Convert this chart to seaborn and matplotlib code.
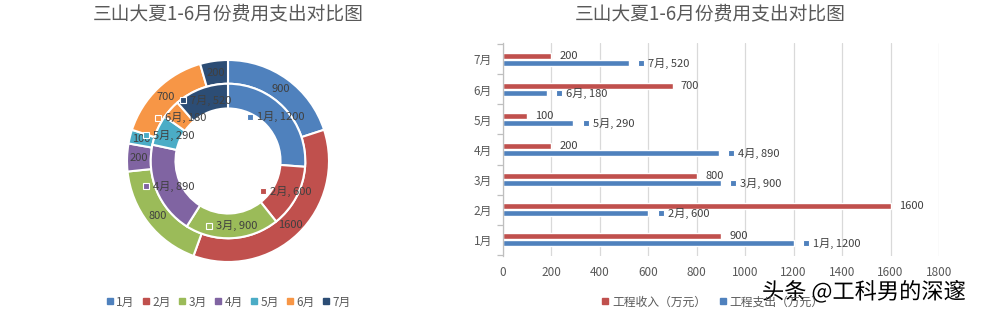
import matplotlib
matplotlib.use("Agg")
import matplotlib.pyplot as plt
import matplotlib.patheffects as pe
from matplotlib.lines import Line2D
import seaborn as sns
import pandas as pd
import numpy as np

sns.set_theme(style="white")
plt.rcParams['font.family'] = ['Noto Sans CJK SC', 'DejaVu Sans']

# ---------------- data ----------------
months = ["1月", "2月", "3月", "4月", "5月", "6月", "7月"]
income = [900, 1600, 800, 200, 100, 700, 200]        # 工程收入（万元）
expense = [1200, 600, 900, 890, 290, 180, 520]       # 工程支出（万元）
series_names = ["工程收入（万元）", "工程支出（万元）"]
title = "三山大夏1-6月份费用支出对比图"
xticks = [0, 200, 400, 600, 800, 1000, 1200, 1400, 1600, 1800]

month_colors = ["#4F81BD", "#C0504D", "#9BBB59", "#8064A2", "#4BACC6", "#F79646", "#2C4D75"]
red, blue = "#C0504D", "#4F81BD"
txt_gray = "#595959"
lab_dark = "#404040"

W, H = 989, 313
fig = plt.figure(figsize=(W / 100, H / 100), dpi=100)
fig.patch.set_facecolor("white")


def fx(px):
    return px / W


def fy(py):
    return 1 - py / H


# ---------------- left: donut ----------------
cx, cy, R = 228, 161, 101
half = 110
ax1 = fig.add_axes([fx(cx - half), fy(cy + half), 2 * half / W, 2 * half / H])
lim = half / R

r_out, r_mid, r_in = 1.0, 0.765, 0.52
ax1.pie(income, radius=r_out, colors=month_colors, startangle=90, counterclock=False,
        wedgeprops=dict(width=r_out - r_mid, edgecolor="white", linewidth=1.5))
ax1.pie(expense, radius=r_mid, colors=month_colors, startangle=90, counterclock=False,
        wedgeprops=dict(width=r_mid - r_in, edgecolor="white", linewidth=1.5))
ax1.set_xlim(-lim, lim)
ax1.set_ylim(-lim, lim)
ax1.set_aspect("equal")
ax1.axis("off")


def mid_angles(vals):
    tot = sum(vals)
    cum = np.cumsum([0] + list(vals))
    return [(cum[i] + vals[i] / 2) / tot * 2 * np.pi for i in range(len(vals))]


# outer labels (values)
ro = (r_out + r_mid) / 2
for a, v in zip(mid_angles(income), income):
    ax1.text(np.sin(a) * ro, np.cos(a) * ro, f"{v}", ha="center", va="center",
             fontsize=8, color=lab_dark)

# inner labels (month, value) with legend key
ri = (r_mid + r_in) / 2
key_texts = []
for a, m, v, c in zip(mid_angles(expense), months, expense, month_colors):
    t = ax1.annotate(f"{m}, {v}", xy=(np.sin(a) * ri, np.cos(a) * ri), xytext=(4, 0),
                     textcoords="offset points", ha="center", va="center",
                     fontsize=8, color=lab_dark)
    key_texts.append((ax1, t, c))

fig.text(fx(228), fy(14), title, ha="center", va="center", fontsize=13.5, color=txt_gray)

# left legend
handles = [Line2D([], [], marker="s", linestyle="none", markersize=5, markerfacecolor=c,
                  markeredgecolor=c) for c in month_colors]
fig.legend(handles, months, loc="center", bbox_to_anchor=(fx(228), fy(302)), ncol=7,
           frameon=False, fontsize=8.5, handletextpad=0.15, columnspacing=0.55,
           labelcolor=txt_gray, handlelength=0.8)

# ---------------- right: bar chart ----------------
x0, x1, ytop, ybot = 503, 939, 43, 256
ax2 = fig.add_axes([fx(x0), fy(ybot), (x1 - x0) / W, (ybot - ytop) / H])

df = pd.DataFrame({
    "month": months * 2,
    "value": income + expense,
    "series": [series_names[0]] * len(months) + [series_names[1]] * len(months),
})
order = months[::-1]
sns.barplot(data=df, y="month", x="value", hue="series", order=order,
            hue_order=series_names, palette=[red, blue], orient="h",
            width=0.5, gap=0.2, ax=ax2, legend=False, saturation=1)

ax2.set_xlim(0, 1800)
ax2.set_xticks(xticks)
ax2.set_xlabel("")
ax2.set_ylabel("")
ax2.grid(axis="x", color="#D9D9D9", linewidth=0.9)
ax2.grid(axis="y", visible=False)
ax2.set_axisbelow(True)
for s in ["top", "right", "bottom"]:
    ax2.spines[s].set_visible(False)
ax2.spines["left"].set_color("#BFBFBF")
ax2.spines["left"].set_linewidth(0.9)
ax2.tick_params(axis="x", length=0, pad=7, labelsize=8.5, labelcolor=txt_gray)
ax2.tick_params(axis="y", which="major", length=0, pad=8, labelsize=8.5, labelcolor=txt_gray)
ax2.set_yticks(np.arange(-0.5, len(months)), minor=True)
ax2.tick_params(axis="y", which="minor", length=4, color="#BFBFBF", width=0.9, left=True)

# bar labels
for bar in ax2.containers[0]:
    w = bar.get_width()
    yc = bar.get_y() + bar.get_height() / 2
    ax2.annotate(f"{int(w)}", xy=(w, yc), xytext=(6, 0), textcoords="offset points",
                 ha="left", va="center", fontsize=8, color=lab_dark)
for bar, m in zip(ax2.containers[1], order):
    w = bar.get_width()
    yc = bar.get_y() + bar.get_height() / 2
    t = ax2.annotate(f"{m}, {int(w)}", xy=(w, yc), xytext=(14, 0), textcoords="offset points",
                     ha="left", va="center", fontsize=8, color=lab_dark)
    key_texts.append((ax2, t, blue))

fig.text(fx(710), fy(14), title, ha="center", va="center", fontsize=13.5, color=txt_gray)

h2 = [Line2D([], [], marker="s", linestyle="none", markersize=5, markerfacecolor=c,
             markeredgecolor=c) for c in [red, blue]]
fig.legend(h2, series_names, loc="center", bbox_to_anchor=(fx(712), fy(302)), ncol=2,
           frameon=False, fontsize=8.5, handletextpad=0.2, columnspacing=1.0,
           labelcolor=txt_gray, handlelength=0.8)

# legend-key markers beside the data labels
fig.canvas.draw()
rend = fig.canvas.get_renderer()
for ax, t, c in key_texts:
    bb = t.get_window_extent(rend)
    xd, yd = ax.transData.inverted().transform((bb.x0 - 7, (bb.y0 + bb.y1) / 2))
    ax.plot([xd], [yd], marker="s", markersize=4, markerfacecolor=c,
            markeredgecolor="white", markeredgewidth=0.8, clip_on=False, zorder=5)

# watermark
fig.text(fx(864), fy(292), "头条 @工科男的深邃", ha="center", va="center", fontsize=16,
         color="black", path_effects=[pe.withStroke(linewidth=3, foreground="white")])

fig.savefig("out.png", dpi=100, facecolor="white")
